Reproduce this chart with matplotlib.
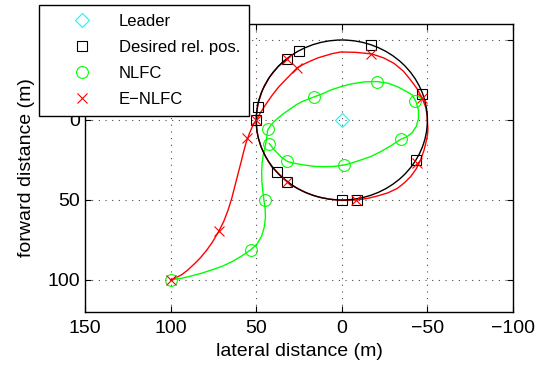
import matplotlib
matplotlib.use("Agg")
import matplotlib.pyplot as plt
from matplotlib.lines import Line2D
from matplotlib.patches import Circle

# ----------------- data -----------------
leader_x = [0]
leader_y = [0]

# desired relative positions on the formation circle
desired_center = (0, 0)
desired_radius = 50
desired_x = [50, 49.1, 38, 32, 0, -8.7, -43.3, -47, -17.1, 24.9, 31.9]
desired_y = [0, -8.3, 32.7, 38.8, 50, 49.8, 25.2, -16, -47, -43, -38]

# NLFC trajectory (line) and its sample markers
nlfc_x = [100, 94, 88, 82, 76.3, 70, 64, 58.5, 53.4, 49.5, 46.8, 45.3, 44.6,
          44.8, 45.5, 46.2, 46.7, 46.8, 46.6, 46, 45, 44, 43.3,
          41.8, 40, 37.5, 34, 30, 26.5, 23, 16.5, 11, 6.4, 0.5, -5.2, -13,
          -20.8, -27, -32.5, -37.5, -41.2, -43.5, -44.8, -44.8, -43.5, -41,
          -38, -34.4, -28.5, -22.7, -17, -11.1, -6, -1.5, 4.5, 10.3, 16, 22,
          27, 31.6, 35, 37.5, 40, 42.4]
nlfc_y = [100, 99, 97.5, 95.8, 93.8, 91.5, 88.5, 85, 81.3, 77.5, 72.5, 67, 61,
          55, 50, 44, 38, 33, 27.5, 22.5, 18, 12, 6.2,
          3.8, 1.5, -1, -4, -7, -9.6, -11.6, -14.3, -16.5, -18.8, -20.8, -22.5, -23.8,
          -24, -23, -20.8, -18, -15.6, -11, -6, -1, 4, 8,
          10.5, 12.1, 16.2, 19.8, 22.8, 25, 26.8, 28.1, 29, 29.2, 29, 28.1,
          27.2, 26, 23.5, 20.8, 18, 14.6]
nlfc_mx = [100, 53.2, 44.9, 43.3, 42.7, 32.2, -1.5, -34.4, -42.7, -20.6, 16.5]
nlfc_my = [100, 81, 50.2, 5.6, 15, 25.9, 28.3, 12, -11.7, -24, -14.2]

# E-NLFC trajectory (line) and its sample markers
enlfc_x = [100, 97, 93.8, 90, 86, 82.5, 79, 75.5, 72, 69, 66.5, 64.3, 62.5,
           60.7, 59, 57.5, 56, 54, 52, 50,
           47.5, 45.5, 40.6, 37, 33, 26, 22, 18, 14, 10.3, 5.5, 0.6, -8, -17.5,
           -24.5, -30.5, -36, -40.2, -44, -47, -49, -49.8, -50.3, -50, -49.5,
           -48, -46, -43.5, -40.2, -36.5, -32.5, -27, -20.8, -15, -8.7, 0, 7,
           14, 19.5, 23.7, 28, 31.6, 36.5, 41, 44.5, 47.2, 49, 49.8, 49.8, 48.9,
           46.2, 42.1, 37.1, 32]
enlfc_y = [100, 98.6, 96.9, 93.8, 89.8, 86, 81.5, 76.2, 69.8, 63.5, 56.5, 49, 41.5,
           34, 27, 20.5, 14.5, 8.5, 3.5, 0,
           -4.5, -8, -15.6, -20.5, -25, -32.7, -35, -37, -38.8, -40, -41.5, -42.5,
           -42.3, -41.3, -38.8, -35.4, -30.5, -25, -19.5, -13.5, -8, -3, 6, 9.5,
           12.5, 19, 25, 30.5, 35.4, 39.3, 42.7, 45.5, 47.5, 49, 50, 50.3, 49.5,
           48, 46, 44, 41.5, 38.6, 34, 29.2, 23, 16.7, 10.5, 5, -3, -10.6,
           -19, -27, -33.5, -38]
enlfc_mx = [100, 72, 55.4, 50, 32, 26, -17.3, -46.6, -44, -8.5, 32]
enlfc_my = [100, 69.5, 11.5, 0, -38, -32.5, -41.3, -14, 27, 50.3, 38.8]

x_ticks = [150, 100, 50, 0, -50, -100]
y_ticks = [-50, 0, 50, 100]


def main():
    plt.rcParams["font.family"] = ["Liberation Sans", "DejaVu Sans"]
    plt.rcParams["axes.unicode_minus"] = True

    fig = plt.figure(figsize=(5.37, 3.72), dpi=100)
    ax = fig.add_axes([85 / 537, 60 / 372, 428 / 537, 288 / 372])

    # formation circle (desired path)
    ax.add_patch(Circle(desired_center, desired_radius, fill=False,
                        edgecolor="k", linewidth=1.0, zorder=3))

    ax.plot(nlfc_x, nlfc_y, color=(0, 1, 0), lw=1.0, zorder=2)
    ax.plot(enlfc_x, enlfc_y, color="r", lw=1.0, zorder=2)

    ax.plot(desired_x, desired_y, ls="none", marker="s", ms=7.5, mfc="none",
            mec="k", mew=0.8, zorder=4)
    ax.plot(nlfc_mx, nlfc_my, ls="none", marker="o", ms=8.5, mfc="none",
            mec=(0, 1, 0), mew=0.8, zorder=4)
    ax.plot(enlfc_mx, enlfc_my, ls="none", marker="x", ms=6.5,
            mec="r", mew=0.8, zorder=5)
    ax.plot(leader_x, leader_y, ls="none", marker="D", ms=7, mfc="none",
            mec=(0, 1, 1), mew=0.8, zorder=5)

    ax.set_xlim(150, -100)
    ax.set_ylim(120, -60)
    ax.set_xticks(x_ticks)
    ax.set_yticks(y_ticks)
    ax.tick_params(direction="in", length=4, width=0.8, top=True, right=True,
                   labelsize=14)
    ax.tick_params(axis="x", pad=6)
    ax.grid(True, color=(0.3, 0.3, 0.3), linestyle=(0, (1, 5)), linewidth=0.8)
    for s in ax.spines.values():
        s.set_linewidth(1.0)

    ax.set_xlabel("lateral distance (m)", fontsize=14, labelpad=4)
    ax.set_ylabel("forward distance (m)", fontsize=14, labelpad=9)

    handles = [
        Line2D([], [], ls="none", marker="D", ms=7, mfc="none", mec=(0, 1, 1), mew=0.8),
        Line2D([], [], ls="none", marker="s", ms=7.5, mfc="none", mec="k", mew=0.8),
        Line2D([], [], ls="none", marker="o", ms=8.5, mfc="none", mec=(0, 1, 0), mew=0.8),
        Line2D([], [], ls="none", marker="x", ms=6.5, mec="r", mew=0.8),
    ]
    labels = ["Leader", "Desired rel. pos.", "NLFC", "E\u2212NLFC"]
    leg = fig.legend(handles, labels, loc="upper left",
                     bbox_to_anchor=(39 / 537, 1 - 5 / 372),
                     bbox_transform=fig.transFigure, borderaxespad=0,
                     fontsize=12, fancybox=False, framealpha=1,
                     edgecolor="k", borderpad=0.55, handlelength=4.0,
                     handletextpad=0.25, labelspacing=0.65)
    leg.get_frame().set_linewidth(1.0)

    fig.savefig("out.png", dpi=100)


if __name__ == "__main__":
    main()
